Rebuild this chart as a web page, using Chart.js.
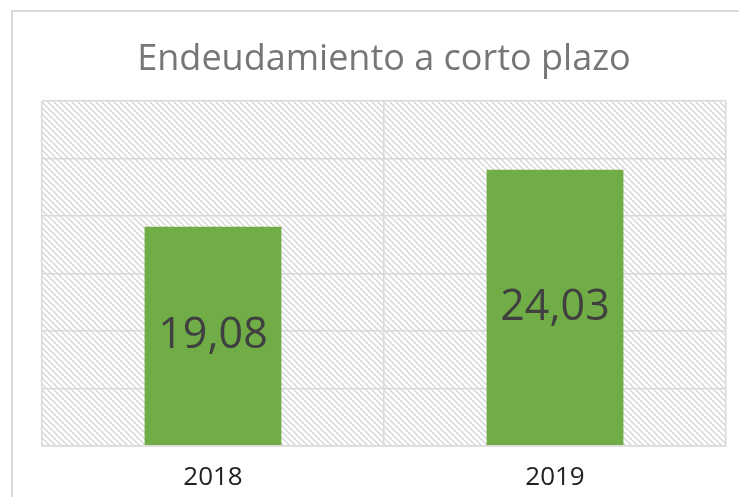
<!DOCTYPE html>
<html><head><meta charset="utf-8">
<script src="https://cdn.jsdelivr.net/npm/chart.js@4/dist/chart.umd.min.js"></script>
<style>
html,body{margin:0;padding:0;background:#fff;}
#wrap{position:absolute;left:0;top:0;width:739px;height:497px;}
#frame{position:absolute;left:11px;top:10px;width:740px;height:500px;border-left:2px solid #d9d9d9;border-top:2px solid #d9d9d9;}
</style></head><body>
<div id="frame"></div>
<div id="wrap"><canvas id="c" width="739" height="497"></canvas></div>
<script>
const categories = ['2018', '2019'];
const values = [19.08, 24.03];
const valueLabels = ['19,08', '24,03'];
const titleText = 'Endeudamiento a corto plazo';

function makePattern(ctx){
  const p = document.createElement('canvas');
  p.width = 6; p.height = 6;
  const g = p.getContext('2d');
  g.fillStyle = '#ffffff'; g.fillRect(0,0,6,6);
  g.strokeStyle = '#d4d4d4'; g.lineWidth = 1.3;
  g.beginPath();
  g.moveTo(-1,-1); g.lineTo(7,7);
  g.moveTo(-4,2); g.lineTo(4,10);
  g.moveTo(2,-4); g.lineTo(10,4);
  g.stroke();
  return ctx.createPattern(p,'repeat');
}

const areaBg = {
  id:'areaBg',
  beforeDraw(chart){
    const {ctx, chartArea:a} = chart;
    ctx.save();
    ctx.fillStyle = makePattern(ctx);
    ctx.fillRect(a.left, a.top, a.right-a.left, a.bottom-a.top);
    ctx.restore();
  }
};
const barLabels = {
  id:'barLabels',
  afterDatasetsDraw(chart){
    const {ctx} = chart;
    const meta = chart.getDatasetMeta(0);
    ctx.save();
    ctx.font = '43px "Open Sans", sans-serif';
    ctx.fillStyle = '#404040';
    ctx.textAlign = 'center';
    ctx.textBaseline = 'middle';
    meta.data.forEach((bar,i)=>{
      const y = (bar.y + bar.base)/2;
      ctx.fillText(valueLabels[i], bar.x, y);
    });
    ctx.restore();
  }
};

new Chart(document.getElementById('c'), {
  type:'bar',
  data:{labels:categories, datasets:[{data:values, backgroundColor:'#70ad47', borderWidth:0, barPercentage:0.8, categoryPercentage:0.5}]},
  options:{
    responsive:false, animation:false,
    layout:{padding:{left:42, right:13, top:38, bottom:-12}},
    plugins:{
      legend:{display:false}, tooltip:{enabled:false},
      title:{display:true, text:titleText, color:'#767676', font:{family:'"Open Sans", sans-serif', size:36, weight:'normal'}, padding:{top:0,bottom:20}}
    },
    scales:{
      x:{grid:{color:'#d9d9d9', drawTicks:false, offset:true, lineWidth:1.5}, border:{color:'#d9d9d9', width:1.5},
         ticks:{color:'#222222', font:{family:'"Open Sans", sans-serif', size:26}, padding:16}},
      y:{min:0, max:30, ticks:{display:false, stepSize:5}, grid:{color:'#d9d9d9', drawTicks:false, lineWidth:1.5}, border:{display:false}}
    }
  },
  plugins:[areaBg, barLabels]
});
</script>
</body></html>
